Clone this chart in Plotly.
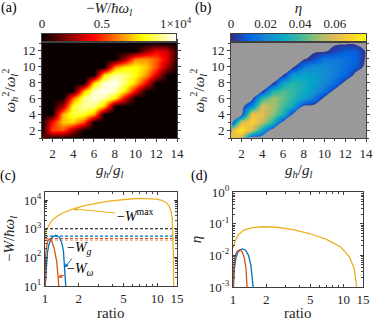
import math
import plotly.graph_objects as go

g_ratio = [1, 2, 3, 4, 5, 6, 7, 8, 9, 10, 11, 12, 13, 14]          # g_h/g_l
w2_ratio = [1, 2, 3, 4, 5, 6, 7, 8, 9, 10, 11, 12, 13]              # w_h^2/w_l^2

# -W / (hbar w_l), in units of 1e4 ; rows follow w2_ratio, columns follow g_ratio
W_e4 = [
    [0.15, 0.04, 0,    0,    0,    0,    0,    0,    0,    0,    0,    0,    0,    0],
    [0,    0.53, 0.55, 0.26, 0,    0,    0,    0,    0,    0,    0,    0,    0,    0],
    [0,    0.43, 0.75, 0.77, 0.53, 0,    0,    0,    0,    0,    0,    0,    0,    0],
    [0,    0,    0.73, 0.92, 0.89, 0.70, 0,    0,    0,    0,    0,    0,    0,    0],
    [0,    0,    0.27, 0.89, 1.02, 0.99, 0.75, 0,    0,    0,    0,    0,    0,    0],
    [0,    0,    0,    0.60, 0.99, 1.09, 1.02, 0.82, 0.36, 0,    0,    0,    0,    0],
    [0,    0,    0,    0,    0.74, 1.06, 1.11, 1.04, 0.79, 0.40, 0,    0,    0,    0],
    [0,    0,    0,    0,    0,    0.81, 1.07, 1.11, 0.95, 0.75, 0.40, 0,    0,    0],
    [0,    0,    0,    0,    0,    0,    0.82, 1.02, 0.97, 0.86, 0.67, 0.36, 0,    0],
    [0,    0,    0,    0,    0,    0,    0,    0.67, 0.82, 0.85, 0.75, 0.55, 0.24, 0],
    [0,    0,    0,    0,    0,    0,    0,    0,    0.27, 0.64, 0.67, 0.57, 0.37, 0.03],
    [0,    0,    0,    0,    0,    0,    0,    0,    0,    0,    0.23, 0.40, 0.33, 0.04],
    [0,    0,    0,    0,    0,    0,    0,    0,    0,    0,    0,    0,    0,    0],
]

# efficiency eta ; same grid
eta_map = [
    [0.065, 0.055, 0,     0,     0,     0,     0,     0,     0,     0,     0,      0,      0,      0],
    [0.060, 0.076, 0.057, 0.029, 0,     0,     0,     0,     0,     0,     0,      0,      0,      0],
    [0,     0.058, 0.069, 0.055, 0.035, 0,     0,     0,     0,     0,     0,      0,      0,      0],
    [0,     0,     0.065, 0.061, 0.048, 0.034, 0,     0,     0,     0,     0,      0,      0,      0],
    [0,     0,     0.020, 0.059, 0.052, 0.041, 0.030, 0,     0,     0,     0,      0,      0,      0],
    [0,     0,     0,     0.037, 0.050, 0.044, 0.036, 0.027, 0.015, 0,     0,      0,      0,      0],
    [0,     0,     0,     0,     0.035, 0.042, 0.038, 0.031, 0.024, 0.014, 0,      0,      0,      0],
    [0,     0,     0,     0,     0,     0.030, 0.036, 0.032, 0.026, 0.020, 0.012,  0,      0,      0],
    [0,     0,     0,     0,     0,     0,     0.026, 0.029, 0.027, 0.022, 0.017,  0.011,  0,      0],
    [0,     0,     0,     0,     0,     0,     0,     0.017, 0.022, 0.021, 0.018,  0.0135, 0.0077, 0],
    [0,     0,     0,     0,     0,     0,     0,     0,     0.006, 0.015, 0.016,  0.0137, 0.010,  0],
    [0,     0,     0,     0,     0,     0,     0,     0,     0,     0,     0.0045, 0.009,  0.0084, 0],
    [0,     0,     0,     0,     0,     0,     0,     0,     0,     0,     0,      0,      0,      0],
]

engine_threshold = 0.07          # below this -W (1e4) the point is shown grey in (b)

W_cbar_range = [0, 1.12]
W_cbar_ticks = [0, 0.5, 1]
W_cbar_text = ["0", "0.5", ""]
eta_cbar_range = [0, 0.078]
eta_cbar_ticks = [0, 0.02, 0.04, 0.06]
eta_cbar_text = ["0", "0.02", "0.04", "0.06"]

# ---------------- line cuts (panels c, d) ----------------
ratio_range = [1, 15]

ratio_Wmax = [1.0, 1.01, 1.035, 1.07, 1.11, 1.18, 1.27, 1.45, 1.79, 2.2, 2.52, 3.0, 3.55,
              4.2, 5.0, 6.0, 7.05, 8.5, 9.9, 11.0, 12.2, 12.8, 13.3, 13.6, 13.8, 13.95, 14.0]
W_max = [417, 650, 924, 1250, 1570, 2100, 2640, 3600, 4900, 6200, 7100, 8000, 9000,
         9800, 10500, 11100, 11500, 11400, 10800, 9800, 7700, 6000, 4000, 2200, 620, 100, 10]

ratio_Wg = [1.005, 1.02, 1.05, 1.08, 1.12, 1.17, 1.246, 1.34, 1.41, 1.46, 1.50, 1.53]
W_g = [10, 40, 140, 260, 400, 520, 588, 500, 325, 165, 44, 10]

ratio_Ww = [1.003, 1.014, 1.035, 1.057, 1.093, 1.148, 1.204, 1.27, 1.31, 1.33]
W_w = [10, 127, 245, 363, 442, 363, 215, 74, 20, 8]

dash_levels = [1000, 550, 450, 395]
dash_colors = ["#000000", "#0072BD", "#D95319", "#F0A07A"]

ratio_eta = [1.0, 1.05, 1.12, 1.25, 1.5, 1.9, 2.5, 3.5, 5.0, 7.0, 9.5, 11.3, 12.5, 13.2, 13.5]
eta_max = [0.017, 0.030, 0.045, 0.063, 0.075, 0.080, 0.077, 0.065, 0.048, 0.032, 0.018,
           0.009, 0.0038, 0.0011, 0.0005]

ratio_eta_g = [1.01, 1.03, 1.06, 1.10, 1.16, 1.22, 1.30, 1.38, 1.45, 1.50, 1.52]
eta_g = [0.001, 0.004, 0.008, 0.012, 0.015, 0.016, 0.0145, 0.010, 0.005, 0.002, 0.001]

ratio_eta_w = [1.003, 1.02, 1.05, 1.09, 1.15, 1.21, 1.27, 1.31, 1.34]
eta_w = [0.001, 0.005, 0.010, 0.0135, 0.015, 0.013, 0.008, 0.004, 0.001]

# ---------------- styles ----------------
YEL, BLU, RED = "#EDB120", "#0072BD", "#D95319"
AX = "#404040"
FONT = "Liberation Serif, Times New Roman, serif"
hot = [[0, "#0b0000"], [0.375, "#ff0000"], [0.75, "#ffff00"], [1, "#ffffff"]]
parula = [[0.0, "#352a87"], [0.125, "#0363e1"], [0.25, "#1485d4"], [0.375, "#06a7c6"],
          [0.5, "#38b99e"], [0.625, "#92bf73"], [0.75, "#d9ba56"], [0.875, "#fcce2e"],
          [1.0, "#f9fb0e"]]

W_lbl = "\u2212<i>W</i>/<i>\u0127\u03c9</i><sub><i>l</i></sub>"

fig = go.Figure()

# panel a
fig.add_trace(go.Heatmap(x=g_ratio, y=w2_ratio, z=W_e4, colorscale=hot, zmin=W_cbar_range[0],
                         zmax=W_cbar_range[1], zsmooth="best", showscale=False,
                         hoverinfo="skip", xaxis="x", yaxis="y"))
# panel b
fig.add_trace(go.Heatmap(x=g_ratio, y=w2_ratio, z=eta_map, colorscale=parula,
                         zmin=eta_cbar_range[0], zmax=eta_cbar_range[1], zsmooth="best",
                         showscale=False, hoverinfo="skip", xaxis="x2", yaxis="y2"))
fig.add_trace(go.Contour(x=g_ratio, y=w2_ratio, z=W_e4,
                         contours=dict(type="constraint", operation=">", value=engine_threshold),
                         fillcolor="rgb(153,153,153)", line=dict(width=0, smoothing=1.0),
                         showscale=False, hoverinfo="skip", xaxis="x2", yaxis="y2"))
# colour bars drawn as gradient strips
fig.add_trace(go.Heatmap(x=W_cbar_range, y=[0], z=[W_cbar_range], colorscale=hot,
                         zmin=W_cbar_range[0], zmax=W_cbar_range[1], zsmooth="best",
                         showscale=False, hoverinfo="skip", xaxis="x5", yaxis="y5"))
fig.add_trace(go.Heatmap(x=eta_cbar_range, y=[0], z=[eta_cbar_range], colorscale=parula,
                         zmin=eta_cbar_range[0], zmax=eta_cbar_range[1], zsmooth="best",
                         showscale=False, hoverinfo="skip", xaxis="x6", yaxis="y6"))

# panel c
for lvl, col in zip(dash_levels, dash_colors):
    fig.add_trace(go.Scatter(x=ratio_range, y=[lvl, lvl], mode="lines",
                             line=dict(color=col, width=1.1, dash="3px,2px"),
                             xaxis="x3", yaxis="y3", hoverinfo="skip"))
fig.add_trace(go.Scatter(x=ratio_Wmax, y=W_max, mode="lines", line=dict(color=YEL, width=1.3),
                         xaxis="x3", yaxis="y3"))
fig.add_trace(go.Scatter(x=ratio_Wg, y=W_g, mode="lines", line=dict(color=BLU, width=1.3),
                         xaxis="x3", yaxis="y3"))
fig.add_trace(go.Scatter(x=ratio_Ww, y=W_w, mode="lines", line=dict(color=RED, width=1.3),
                         xaxis="x3", yaxis="y3"))
# panel d
fig.add_trace(go.Scatter(x=ratio_eta, y=eta_max, mode="lines", line=dict(color=YEL, width=1.3),
                         xaxis="x4", yaxis="y4"))
fig.add_trace(go.Scatter(x=ratio_eta_g, y=eta_g, mode="lines", line=dict(color=BLU, width=1.3),
                         xaxis="x4", yaxis="y4"))
fig.add_trace(go.Scatter(x=ratio_eta_w, y=eta_w, mode="lines", line=dict(color=RED, width=1.3),
                         xaxis="x4", yaxis="y4"))

W, H = 381, 326
def dx(a, b):
    return [a / W, b / W]
def dy(top, bot):
    return [1 - bot / H, 1 - top / H]

heat_common = dict(showline=True, linecolor=AX, linewidth=1, mirror="allticks", ticks="outside",
                   ticklen=3, tickcolor=AX, showgrid=False, zeroline=False, automargin=False,
                   tickfont=dict(size=13), tickmode="linear", tick0=0, dtick=2,
                   minor=dict(ticks="outside", ticklen=2, tickcolor=AX, dtick=1, tick0=0))
log_common = dict(showline=True, linecolor=AX, linewidth=1, mirror="allticks", ticks="inside",
                  ticklen=3, tickcolor=AX, showgrid=False, zeroline=False, type="log",
                  automargin=False, tickfont=dict(size=13))
xlog = dict(log_common, range=[0, math.log10(ratio_range[1])], tickmode="array",
            tickvals=[1, 2, 5, 10, 15], ticktext=["1", "2", "5", "10", "15"],
            minor=dict(ticks="inside", ticklen=2, tickcolor=AX, tickmode="array",
                       tickvals=[3, 4, 6, 7, 8, 9]))
cbar_common = dict(side="top", tickmode="array", ticks="", showline=True, mirror=True,
                   linecolor=AX, showgrid=False, zeroline=False, automargin=False,
                   tickfont=dict(size=13))
cbar_y = dict(domain=[1 - 41 / H, 1 - 34 / H], range=[-0.5, 0.5], showticklabels=False,
              ticks="", showline=True, mirror=True, linecolor=AX, showgrid=False,
              zeroline=False, automargin=False)

gh_title = "<i>g</i><sub><i>h</i></sub>/<i>g</i><sub><i>l</i></sub>"
wy_title = ("<i>\u03c9</i><sub><i>h</i></sub><sup>2</sup>/"
            "<i>\u03c9</i><sub><i>l</i></sub><sup>2</sup>")

fig.update_layout(
    width=W, height=H, margin=dict(l=0, r=0, t=0, b=0, autoexpand=False),
    paper_bgcolor="white", plot_bgcolor="white", showlegend=False,
    font=dict(family=FONT, size=13, color="#262626"),
    xaxis=dict(heat_common, domain=dx(42, 177), range=[1, 14], anchor="y"),
    yaxis=dict(heat_common, domain=dy(43, 138), range=[1, 13], anchor="x",
               title=dict(text=wy_title, font=dict(size=15), standoff=3)),
    xaxis2=dict(heat_common, domain=dx(231, 366), range=[1, 14], anchor="y2"),
    yaxis2=dict(heat_common, domain=dy(43, 138), range=[1, 13], anchor="x2",
                title=dict(text=wy_title, font=dict(size=15), standoff=3)),
    xaxis3=dict(xlog, domain=dx(45, 177), anchor="y3"),
    yaxis3=dict(log_common, domain=dy(192, 286), range=[1, 4.28], anchor="x3",
                tickmode="array", tickvals=[10, 100, 1000, 10000],
                ticktext=["10<sup>1</sup>", "10<sup>2</sup>", "10<sup>3</sup>", "10<sup>4</sup>"],
                minor=dict(ticks="inside", ticklen=2, tickcolor=AX, dtick="D1"),
                title=dict(text=W_lbl, font=dict(size=15), standoff=5)),
    xaxis4=dict(xlog, domain=dx(233, 363), anchor="y4"),
    yaxis4=dict(log_common, domain=dy(192, 287), range=[-3, 0], anchor="x4",
                tickmode="array", tickvals=[0.001, 0.01, 0.1, 1],
                ticktext=["10<sup>-3</sup>", "10<sup>-2</sup>", "10<sup>-1</sup>", "10<sup>0</sup>"],
                minor=dict(ticks="inside", ticklen=2, tickcolor=AX, dtick="D1"),
                title=dict(text="<i>\u03b7</i>", font=dict(size=15), standoff=3)),
    xaxis5=dict(cbar_common, domain=dx(42, 176), range=W_cbar_range, anchor="y5",
                tickvals=W_cbar_ticks, ticktext=W_cbar_text,
                title=dict(text=W_lbl, font=dict(size=15), standoff=2)),
    yaxis5=dict(cbar_y, anchor="x5"),
    xaxis6=dict(cbar_common, domain=dx(231, 366), range=eta_cbar_range, anchor="y6",
                tickvals=eta_cbar_ticks, ticktext=eta_cbar_text,
                title=dict(text="<i>\u03b7</i>", font=dict(size=15), standoff=2)),
    yaxis6=dict(cbar_y, anchor="x6"),
)

anns = []
for txt, xp, yp in [("(a)", 9, 8), ("(b)", 203, 8), ("(c)", 8, 176), ("(d)", 199, 176)]:
    anns.append(dict(text=txt, x=xp / W, y=1 - yp / H, xref="paper", yref="paper",
                     xanchor="center", yanchor="middle",
                     showarrow=False, font=dict(size=14, color="#000")))
# x-axis titles
for ax_name in ["x", "x2"]:
    anns.append(dict(text=gh_title, x=0.5, xref=ax_name + " domain", y=1 - 171 / H,
                     yref="paper", xanchor="center", yanchor="middle", showarrow=False,
                     font=dict(size=15, color="#262626")))
for ax_name in ["x3", "x4"]:
    anns.append(dict(text="ratio", x=0.5, xref=ax_name + " domain", y=1 - 313 / H,
                     yref="paper", xanchor="center", yanchor="middle", showarrow=False,
                     font=dict(size=15, color="#262626")))
anns.append(dict(text="1\u00d710<sup>4</sup>", x=W_cbar_ticks[2], xref="x5",
                 y=1 - 34 / H, yref="paper", yanchor="bottom", yshift=1, xanchor="left",
                 xshift=-4, showarrow=False, font=dict(size=13, color="#262626")))
i = 8
anns.append(dict(text="\u2212<i>W</i><sup>max</sup>", x=math.log10(ratio_Wmax[i]),
                 y=math.log10(W_max[i]), xref="x3", yref="y3", ax=62, ay=6,
                 arrowcolor=YEL, arrowhead=2, arrowsize=0.8, arrowwidth=1,
                 font=dict(size=14, color="#000")))
j = 10
anns.append(dict(text="\u2212<i>W</i><sub><i>g</i></sub>", x=math.log10(ratio_Wg[j]),
                 y=math.log10(W_g[j]), xref="x3", yref="y3", ax=15, ay=-19,
                 arrowcolor=BLU, arrowhead=2, arrowsize=0.8, arrowwidth=1,
                 font=dict(size=14, color="#000")))
k = 8
anns.append(dict(text="\u2212<i>W</i><sub><i>\u03c9</i></sub>", x=math.log10(ratio_Ww[k]),
                 y=math.log10(W_w[k]), xref="x3", yref="y3", ax=22, ay=-8,
                 arrowcolor=RED, arrowhead=2, arrowsize=0.8, arrowwidth=1,
                 font=dict(size=14, color="#000")))
fig.update_layout(annotations=anns)

fig.write_html("out.html", config={"displayModeBar": False},
               post_script="document.body.style.margin='0';document.body.style.overflow='hidden';")
